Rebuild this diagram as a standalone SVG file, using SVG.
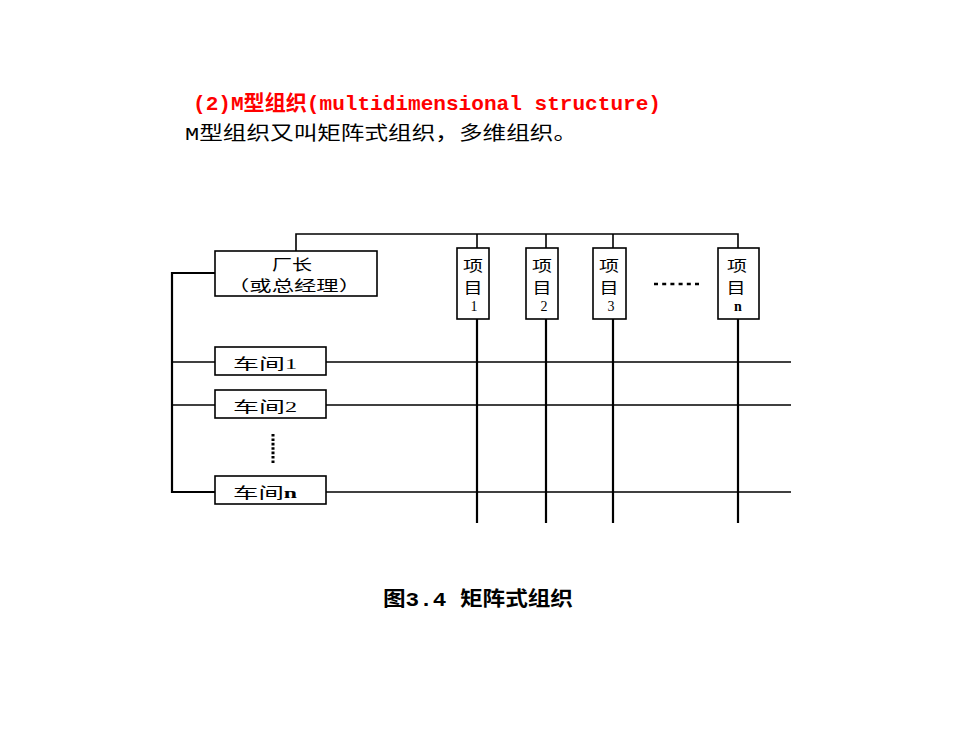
<svg xmlns="http://www.w3.org/2000/svg" width="980" height="735" viewBox="0 0 980 735">
<style>
.box{fill:#fff;stroke:#000;stroke-width:1.6}
.ln{stroke:#000;stroke-width:1.6;fill:none}
.vl{stroke:#000;stroke-width:2.2;fill:none}
.cn{font-family:"Noto Sans CJK SC","Noto Sans",sans-serif;font-size:15px;fill:#000}
.num{font-family:"Liberation Serif",serif;font-size:14px;fill:#000}
</style>
<rect width="980" height="735" fill="#fff"/>
<text x="193" y="110" textLength="468" lengthAdjust="spacingAndGlyphs" style="font-family:'Liberation Mono','Noto Sans CJK SC',monospace;font-weight:bold;font-size:21px;fill:#ff0000">(2)M型组织(multidimensional structure)</text>
<text x="185" y="140" textLength="392" lengthAdjust="spacingAndGlyphs" style="font-family:'Liberation Mono','Noto Sans CJK SC',monospace;font-size:19px;fill:#000">M型组织又叫矩阵式组织，多维组织。</text>
<g id="connectors">
<polyline class="ln" points="296,251 296,234 738,234 738,248"/>
<line class="ln" x1="477" y1="234" x2="477" y2="248"/>
<line class="ln" x1="546" y1="234" x2="546" y2="248"/>
<line class="ln" x1="613" y1="234" x2="613" y2="248"/>
<polyline class="vl" points="215,273 172,273 172,492 215,492"/>
<line class="ln" x1="172" y1="362" x2="215" y2="362"/>
<line class="ln" x1="172" y1="405" x2="215" y2="405"/>
<line class="ln" x1="326" y1="362" x2="791" y2="362"/>
<line class="ln" x1="326" y1="405" x2="791" y2="405"/>
<line class="ln" x1="326" y1="492" x2="791" y2="492"/>
<line class="vl" x1="477" y1="319" x2="477" y2="523"/>
<line class="vl" x1="546" y1="319" x2="546" y2="523"/>
<line class="vl" x1="613" y1="319" x2="613" y2="523"/>
<line class="vl" x1="738" y1="319" x2="738" y2="523"/>
<line x1="654" y1="284" x2="702" y2="284" stroke="#000" stroke-width="2.6" stroke-dasharray="4 4.2"/>
<line x1="273" y1="434" x2="273" y2="464" stroke="#000" stroke-width="3" stroke-dasharray="2.6 1.8"/>
</g>
<g id="director">
<rect class="box" x="215" y="251" width="162" height="45"/>
<text class="cn" x="292" y="270" font-size="14" text-anchor="middle" textLength="40" lengthAdjust="spacingAndGlyphs">厂长</text>
<text class="cn" x="294" y="291" font-size="14" text-anchor="middle" textLength="134" lengthAdjust="spacingAndGlyphs">（或总经理）</text>
</g>
<g id="project1">
<rect class="box" x="457" y="248" width="32" height="71"/>
<text class="cn" x="473" y="271" text-anchor="middle" textLength="20" lengthAdjust="spacingAndGlyphs">项</text>
<text class="cn" x="473" y="293" text-anchor="middle" textLength="19" lengthAdjust="spacingAndGlyphs">目</text>
<text class="num" x="474" y="311" text-anchor="middle">1</text>
</g>
<g id="project2">
<rect class="box" x="526" y="248" width="32" height="71"/>
<text class="cn" x="542" y="271" text-anchor="middle" textLength="20" lengthAdjust="spacingAndGlyphs">项</text>
<text class="cn" x="542" y="293" text-anchor="middle" textLength="19" lengthAdjust="spacingAndGlyphs">目</text>
<text class="num" x="544" y="311" text-anchor="middle">2</text>
</g>
<g id="project3">
<rect class="box" x="593" y="248" width="33" height="71"/>
<text class="cn" x="609" y="271" text-anchor="middle" textLength="20" lengthAdjust="spacingAndGlyphs">项</text>
<text class="cn" x="609" y="293" text-anchor="middle" textLength="19" lengthAdjust="spacingAndGlyphs">目</text>
<text class="num" x="611" y="311" text-anchor="middle">3</text>
</g>
<g id="projectn">
<rect class="box" x="718" y="248" width="41" height="71"/>
<text class="cn" x="737" y="271" text-anchor="middle" textLength="20" lengthAdjust="spacingAndGlyphs">项</text>
<text class="cn" x="736" y="293" text-anchor="middle" textLength="19" lengthAdjust="spacingAndGlyphs">目</text>
<text class="num" x="738" y="311" text-anchor="middle" font-weight="bold">n</text>
</g>
<g id="workshop1">
<rect class="box" x="215" y="347" width="111" height="28"/>
<text class="cn" x="233" y="369" font-size="19" textLength="64" lengthAdjust="spacingAndGlyphs">车间<tspan class="num" font-size="18">1</tspan></text>
</g>
<g id="workshop2">
<rect class="box" x="215" y="390" width="111" height="28"/>
<text class="cn" x="233" y="412" font-size="19" textLength="64" lengthAdjust="spacingAndGlyphs">车间<tspan class="num" font-size="18">2</tspan></text>
</g>
<g id="workshopn">
<rect class="box" x="215" y="476" width="111" height="28"/>
<text class="cn" x="233" y="498" font-size="19" textLength="64" lengthAdjust="spacingAndGlyphs">车间<tspan class="num" font-size="19" font-weight="bold">n</tspan></text>
</g>
<text x="383" y="606" textLength="190" lengthAdjust="spacingAndGlyphs" style="font-family:'Liberation Mono','Noto Sans CJK SC',monospace;font-weight:bold;font-size:20px;fill:#000">图3.4 矩阵式组织</text>
</svg>
